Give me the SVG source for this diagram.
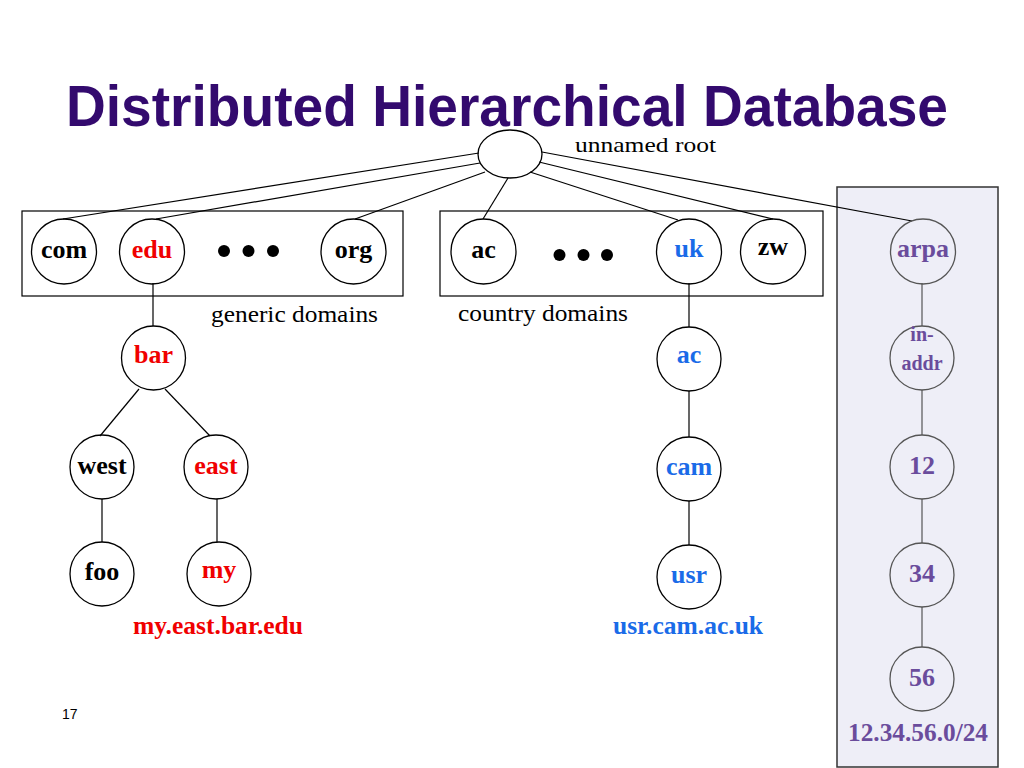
<svg xmlns="http://www.w3.org/2000/svg" width="1024" height="768" viewBox="0 0 1024 768">
<style>
.title{font-family:"Liberation Sans",Arial,sans-serif;font-weight:bold;font-size:57px;fill:#330a6e}
.lbl{font-family:"Liberation Serif","Times New Roman",serif;font-size:24px;fill:#000}
.n{fill:none;stroke:#000;stroke-width:1.3}
.np{fill:none;stroke:#555;stroke-width:1.3}
.t{font-family:"Liberation Serif","Times New Roman",serif;font-weight:bold;font-size:26px;text-anchor:middle}
.k{fill:#000}.r{fill:#f00000}.b{fill:#1a6be8}.p{fill:#6a4c9c}
.box{fill:none;stroke:#000;stroke-width:1.2}
.c line{stroke:#000;stroke-width:1.2}
.c line.g{stroke:#555}
.dot{fill:#000}
</style>
<rect width="1024" height="768" fill="#fff"/>
<text class="title" x="66" y="126" textLength="882" lengthAdjust="spacingAndGlyphs">Distributed Hierarchical Database</text>
<rect id="arpa-panel" x="837" y="187" width="161" height="580" fill="#eeeef7" stroke="#333" stroke-width="1.5"/>
<rect id="generic-box" class="box" x="22" y="211" width="381" height="85"/>
<rect id="country-box" class="box" x="440" y="211" width="383" height="85"/>
<g id="connectors" class="c">
<line x1="479" y1="153" x2="63" y2="219"/>
<line x1="480" y1="163" x2="156" y2="219"/>
<line x1="485" y1="172" x2="355" y2="219"/>
<line x1="508" y1="178" x2="483" y2="219"/>
<line x1="530" y1="172" x2="678" y2="220"/>
<line x1="539" y1="162" x2="773" y2="219"/>
<line x1="542" y1="152" x2="912" y2="221"/>
<line x1="153" y1="283" x2="153" y2="326"/>
<line x1="139" y1="389" x2="100" y2="436"/>
<line x1="165" y1="389" x2="210" y2="436"/>
<line x1="102" y1="499" x2="102" y2="542"/>
<line x1="217" y1="499" x2="217" y2="542"/>
<line x1="689" y1="283" x2="689" y2="327"/>
<line x1="689" y1="391" x2="689" y2="437"/>
<line x1="689" y1="501" x2="689" y2="545"/>
<line class="g" x1="922" y1="283" x2="922" y2="326"/>
<line class="g" x1="922" y1="390" x2="922" y2="435"/>
<line class="g" x1="922" y1="499" x2="922" y2="543"/>
<line class="g" x1="922" y1="607" x2="922" y2="647"/>
</g>
<g id="root"><ellipse class="n" cx="510" cy="154" rx="32" ry="24"/></g>
<text class="lbl" style="font-size:22px" x="575" y="152" textLength="141" lengthAdjust="spacingAndGlyphs">unnamed root</text>
<g id="com"><circle class="n" cx="64" cy="251.5" r="32.5"/><text class="t k" x="64" y="258">com</text></g>
<g id="edu"><circle class="n" cx="152" cy="251.5" r="32.5"/><text class="t r" x="152" y="258">edu</text></g>
<g id="dots-generic"><circle class="dot" cx="224" cy="251" r="6"/><circle class="dot" cx="248.5" cy="251" r="6"/><circle class="dot" cx="273" cy="251" r="6"/></g>
<g id="org"><circle class="n" cx="353.5" cy="251.5" r="32.5"/><text class="t k" x="353.5" y="258">org</text></g>
<g id="ac-country"><circle class="n" cx="483.5" cy="251.5" r="32.5"/><text class="t k" x="483.5" y="258">ac</text></g>
<g id="dots-country"><circle class="dot" cx="559.5" cy="255" r="6"/><circle class="dot" cx="583.5" cy="255" r="6"/><circle class="dot" cx="607" cy="255" r="6"/></g>
<g id="uk"><circle class="n" cx="689" cy="251.5" r="32.5"/><text class="t b" x="689" y="257">uk</text></g>
<g id="zw"><circle class="n" cx="773" cy="251.5" r="32.5"/><text class="t k" x="773" y="255">zw</text></g>
<g id="arpa"><circle class="np" cx="923" cy="251.5" r="32.5"/><text class="t p" x="923" y="257">arpa</text></g>
<text class="lbl" x="211" y="322" textLength="167" lengthAdjust="spacingAndGlyphs">generic domains</text>
<text class="lbl" x="458" y="321" textLength="170" lengthAdjust="spacingAndGlyphs">country domains</text>
<g id="bar"><circle class="n" cx="153.5" cy="358" r="32"/><text class="t r" x="153.5" y="363">bar</text></g>
<g id="west"><circle class="n" cx="102" cy="467" r="32"/><text class="t k" x="102" y="474">west</text></g>
<g id="east"><circle class="n" cx="216" cy="467" r="32"/><text class="t r" x="216" y="474">east</text></g>
<g id="foo"><circle class="n" cx="102" cy="574" r="32"/><text class="t k" x="102" y="580">foo</text></g>
<g id="my"><circle class="n" cx="219" cy="574" r="32"/><text class="t r" x="219" y="578">my</text></g>
<text class="t r" x="218" y="634" textLength="170" lengthAdjust="spacingAndGlyphs">my.east.bar.edu</text>
<g id="ac-uk"><circle class="n" cx="689" cy="359" r="32"/><text class="t b" x="689" y="363">ac</text></g>
<g id="cam"><circle class="n" cx="689" cy="469" r="32"/><text class="t b" x="689" y="475">cam</text></g>
<g id="usr"><circle class="n" cx="689" cy="577" r="32"/><text class="t b" x="689" y="583">usr</text></g>
<text class="t b" x="688" y="634" textLength="150" lengthAdjust="spacingAndGlyphs">usr.cam.ac.uk</text>
<g id="in-addr"><circle class="np" cx="922" cy="358" r="32"/><text class="t p" style="font-size:20px" x="922" y="341">in-</text><text class="t p" style="font-size:20px" x="922" y="370">addr</text></g>
<g id="n12"><circle class="np" cx="922" cy="467" r="32"/><text class="t p" x="922" y="474">12</text></g>
<g id="n34"><circle class="np" cx="922" cy="575" r="32"/><text class="t p" x="922" y="582">34</text></g>
<g id="n56"><circle class="np" cx="922" cy="679" r="32"/><text class="t p" x="922" y="686">56</text></g>
<text class="t p" x="918" y="741" textLength="140" lengthAdjust="spacingAndGlyphs">12.34.56.0/24</text>
<text x="62" y="719" style="font-family:'Liberation Sans',Arial,sans-serif;font-size:14px;fill:#000">17</text>
</svg>
